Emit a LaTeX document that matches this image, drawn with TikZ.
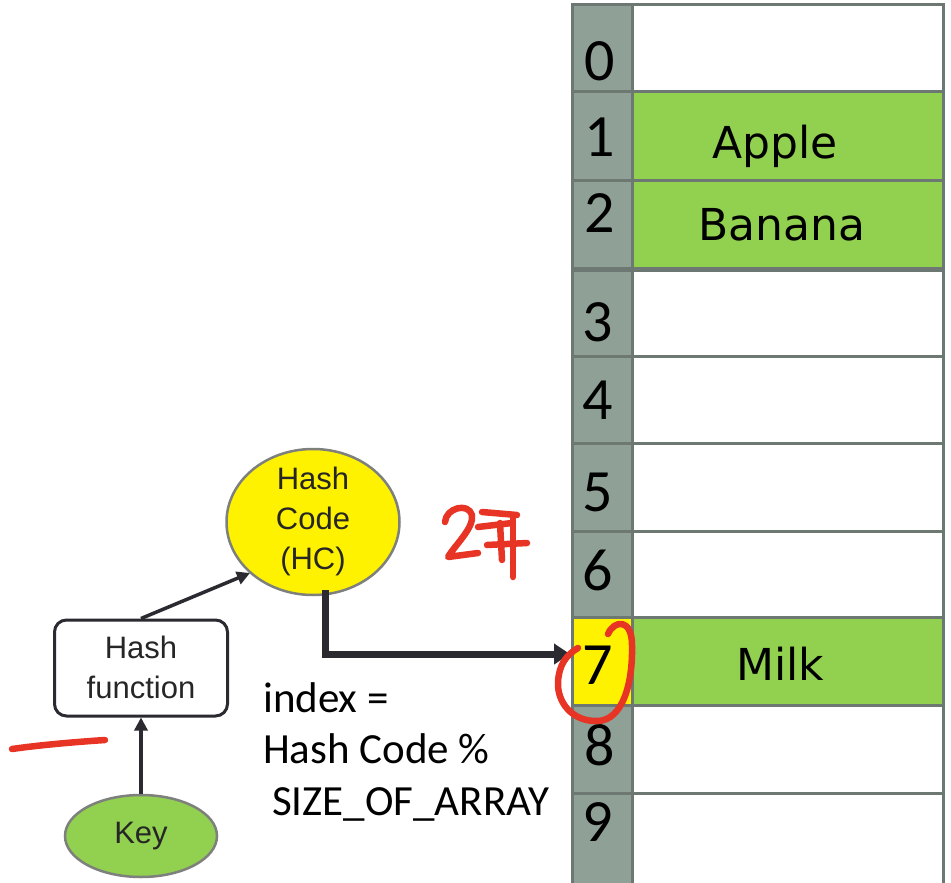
\documentclass[tikz,border=0pt]{standalone}
\usepackage{fontspec}
\setmainfont{Carlito}
\newfontfamily\arialfont{Liberation Sans}
\newfontfamily\wordfont{DejaVu Sans}
\usetikzlibrary{shapes.geometric,arrows.meta}

\definecolor{slotgray}{RGB}{143,160,150}
\definecolor{slotedge}{RGB}{108,120,113}
\definecolor{leafgreen}{RGB}{146,208,80}
\definecolor{inkdark}{RGB}{42,42,48}
\definecolor{penred}{RGB}{232,52,36}
\definecolor{rimgray}{RGB}{125,128,125}

\tikzset{
  idxcell/.style={draw=slotedge, line width=3pt, minimum width=60pt, inner sep=0pt},
  valcell/.style={draw=slotedge, line width=3pt, minimum width=311pt, inner sep=0pt},
  digit/.style={font=\fontsize{60}{60}\selectfont, inner sep=0pt},
  word/.style={font=\wordfont\fontsize{44}{44}\selectfont, inner sep=0pt, anchor=base},
  formula/.style={font=\fontsize{43}{43}\selectfont, inner sep=0pt, anchor=base west},
  label30/.style={font=\arialfont\fontsize{31}{40}\selectfont, align=center, inner sep=0pt, text=black!85},
  thinarrow/.style={draw=inkdark, line width=3.5pt, -{Triangle[length=13pt,width=13pt]}},
  bigarrow/.style={draw=inkdark, line width=7pt, -{Triangle[length=16pt,width=20pt]}},
  pen/.style={draw=penred, line width=6.5pt, line cap=round, line join=round},
}

\begin{document}
\begin{tikzpicture}[x=1pt,y=-1pt]
\useasboundingbox[fill=white] (0,0) rectangle (951,883);

% the array: index column and value column
\foreach \i/\t/\b/\vf/\xf in {0/5/92/white/slotgray,1/92/180/leafgreen/slotgray,
    2/180/268/leafgreen/slotgray,3/270/356/white/slotgray,4/356/443/white/slotgray,
    5/443/531/white/slotgray,6/531/617/white/slotgray,7/617/705/leafgreen/yellow,
    8/705/793/white/slotgray,9/793/895/white/slotgray} {
  \pgfmathsetmacro\h{\b-\t}
  \pgfmathsetmacro\m{(\t+\b)/2}
  \node[idxcell, fill=\xf, minimum height=\h pt] (idx\i) at (602,\m) {};
  \node[valcell, fill=\vf, minimum height=\h pt] (val\i) at (787.5,\m) {};
}

% slot numbers
\node[digit] (n0) at (600,61) {0};
\node[digit] (n1) at (600,137) {1};
\node[digit] (n2) at (600,213) {2};
\node[digit] (n3) at (598,322) {3};
\node[digit] (n4) at (598,400) {4};
\node[digit] (n5) at (598,492) {5};
\node[digit] (n6) at (598,570) {6};
\node[digit] (n7) at (598,665) {7};
\node[digit] (n8) at (600,745) {8};
\node[digit] (n9) at (598,822) {9};

% stored values
\node[word] (apple) at (775,158) {Apple};
\node[word] (banana) at (782,240) {Banana};
\node[word] (milk) at (780,680) {Milk};

% hashing pipeline
\node[ellipse, draw=rimgray, line width=2.5pt, fill=yellow,
      minimum width=173pt, minimum height=146pt, inner sep=0pt] (hc) at (313,522) {};
\node[label30] (hctext) at (313,521) {Hash\\Code\\(HC)};

\node[draw=inkdark, line width=3pt, rounded corners=12pt, fill=white,
      minimum width=173pt, minimum height=96pt, inner sep=0pt] (hf) at (141,668) {};
\node[label30] (hftext) at (141,667) {Hash\\function};

\node[ellipse, draw=rimgray, line width=2.5pt, fill=leafgreen,
      minimum width=152pt, minimum height=82pt, inner sep=0pt] (key) at (141,836) {};
\node[font=\arialfont\fontsize{31}{31}\selectfont, inner sep=0pt, text=black!85] (keytext) at (141,836) {Key};

\draw[thinarrow] (key.north) -- (hf.south);
\coordinate (hcin) at (250,573);
\draw[thinarrow] (hf.north) -- (hcin);
\coordinate (drop) at (325,590);
\coordinate (hit) at (570,654);
\draw[bigarrow] (drop) |- (hit);

% index formula
\node[formula] (f1) at (263,712) {index =};
\node[formula] (f2) at (263,763) {Hash Code \%};
\node[formula] (f3) at (272,815) {SIZE\_OF\_ARRAY};

% red pen marks
\draw[pen] (12,749) .. controls (40,745) and (75,742) .. (105,740);
\draw[pen] (608,634) .. controls (614,620) and (632,618) .. (632,645)
  .. controls (633,685) and (622,720) .. (598,721)
  .. controls (572,722) and (557,702) .. (558,682)
  .. controls (559,665) and (566,655) .. (578,648);
% handwritten "27"
\draw[pen] (445,522) .. controls (446,508) and (468,502) .. (472,515)
  .. controls (474,528) and (455,545) .. (448,557) -- (478,553);
\draw[pen] (482,512) -- (517,515);
\draw[pen] (478,527) -- (512,523);
\draw[pen] (487,545) -- (527,543);
\draw[pen] (500,523) -- (502,560);
\draw[pen] (513,517) -- (513,577);
\end{tikzpicture}
\end{document}
